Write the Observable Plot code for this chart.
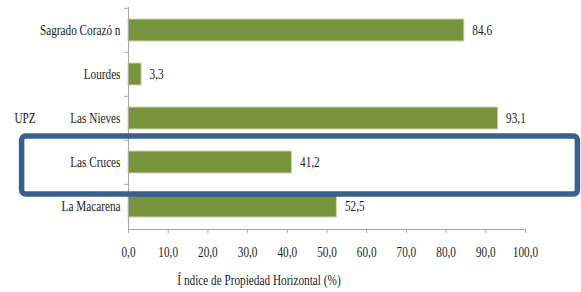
<!DOCTYPE html>
<html>
<head>
<meta charset="utf-8">
<script src="https://cdn.jsdelivr.net/npm/d3@7"></script>
<script src="https://cdn.jsdelivr.net/npm/@observablehq/plot@0.6"></script>
<style>
  body { margin: 0; background: #fff; }
  #chart svg { display: block; }
  #chart svg text { font-family: "Liberation Serif", "Times New Roman", serif !important; }
</style>
</head>
<body>
<div id="chart"></div>
<script>
const categories = ["Sagrado Corazó n", "Lourdes", "Las Nieves", "Las Cruces", "La Macarena"];
const values = [84.6, 3.3, 93.1, 41.2, 52.5];
const xTicks = [0, 10, 20, 30, 40, 50, 60, 70, 80, 90, 100];
const highlighted = ["Las Cruces"];
const yTitle = "UPZ";
const xTitle = "Í ndice de Propiedad Horizontal (%)";

const data = categories.map((c, i) => ({cat: c, value: values[i]}));
const fmt = d => d.toFixed(1).replace(".", ",");
const font = "'Liberation Serif', 'Times New Roman', serif";

const W = 581, H = 292;
const mTop = 7, mBottom = 63;
const bw = (H - mTop - mBottom) / categories.length;

const plot = Plot.plot({
  width: W,
  height: H,
  marginLeft: 128,
  marginRight: 56,
  marginTop: mTop,
  marginBottom: mBottom,
  style: {fontFamily: font, fontSize: "15px", color: "#1a1a1a", background: "#fff", overflow: "visible"},
  x: {domain: [0, 100]},
  y: {domain: categories, padding: 0},
  marks: [
    Plot.barX(data, {x: "value", y: "cat", fill: "#77933c", stroke: "#c9dba5", strokeWidth: 1, insetTop: 11, insetBottom: 11}),
    Plot.text(data, {x: "value", y: "cat", text: d => fmt(d.value), textAnchor: "start", dx: 8, fill: "#1a1a1a"}),
    Plot.ruleX([0], {stroke: "#a6a6a6"}),
    Plot.frame({anchor: "bottom", stroke: "#a6a6a6"}),
    Plot.axisX({ticks: xTicks, tickFormat: fmt, tickSize: 4, tickPadding: 13, stroke: "#a6a6a6", label: null}),
    Plot.axisY({tickSize: 4, dy: -bw / 2, text: null, stroke: "#a6a6a6", label: null}),
    Plot.axisY({tickSize: 0, tickPadding: 8, label: null}),
    Plot.text([yTitle], {frameAnchor: "left", dx: -114, textAnchor: "start", fill: "#1a1a1a"}),
    Plot.text([xTitle], {frameAnchor: "bottom", dx: -68, dy: 55, fill: "#1a1a1a"}),
    Plot.barX(highlighted, {y: d => d, x1: () => -26.8, x2: () => 113.2, fill: "none", stroke: "#3a5f8e", strokeWidth: 5.5, rx: 4, insetTop: -4, insetBottom: -10})
  ]
});

// horizontally condense the serif text to match the reference's narrow typeface
d3.select(plot).selectAll("text").each(function() {
  const X = +this.getAttribute("x") || 0;
  const t = this.getAttribute("transform") || "";
  this.setAttribute("font-family", "Liberation Serif");
  this.setAttribute("transform", `${t} translate(${X},0) scale(0.75,1) translate(${-X},0)`);
});

document.getElementById("chart").appendChild(plot);
</script>
</body>
</html>
